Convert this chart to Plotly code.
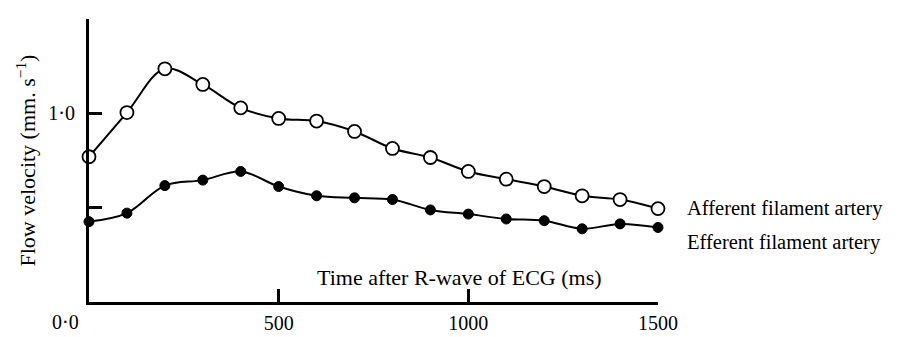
import plotly.graph_objects as go

# Data
time_ms = [0, 100, 200, 300, 400, 500, 600, 700, 800, 900, 1000, 1100, 1200, 1300, 1400, 1500]
afferent = [0.770, 1.004, 1.236, 1.153, 1.029, 0.973, 0.959, 0.904, 0.814, 0.766,
            0.692, 0.651, 0.612, 0.563, 0.543, 0.495]
efferent = [0.426, 0.471, 0.617, 0.646, 0.692, 0.612, 0.563, 0.552, 0.543, 0.488,
            0.466, 0.440, 0.431, 0.388, 0.414, 0.395]

x_tickvals = [500, 1000, 1500]
x_ticktext = ["500", "1000", "1500"]
y_tickvals = [1.0]
y_ticktext = ["1·0"]
y_minor_ticks = [0.5, 1.5]

series_names = ["Afferent filament artery", "Efferent filament artery"]

FONT = "Liberation Serif, Times New Roman, serif"

fig = go.Figure()
fig.add_trace(go.Scatter(
    x=time_ms, y=afferent, mode="lines+markers", name=series_names[0],
    line=dict(color="black", width=2, shape="spline", smoothing=1.0),
    marker=dict(symbol="circle", size=13, color="white",
                line=dict(color="black", width=1.8)),
    showlegend=False, cliponaxis=False,
))
fig.add_trace(go.Scatter(
    x=time_ms, y=efferent, mode="lines+markers", name=series_names[1],
    line=dict(color="black", width=2, shape="spline", smoothing=1.0),
    marker=dict(symbol="circle", size=10, color="black",
                line=dict(color="black", width=1)),
    showlegend=False, cliponaxis=False,
))

annotations = [
    dict(x=1500, y=afferent[-1], xref="x", yref="y", text=series_names[0],
         showarrow=False, xanchor="left", yanchor="middle", xshift=27, yshift=0,
         font=dict(family=FONT, size=20.5, color="black")),
    dict(x=1500, y=efferent[-1], xref="x", yref="y", text=series_names[1],
         showarrow=False, xanchor="left", yanchor="middle", xshift=27, yshift=-15,
         font=dict(family=FONT, size=20.5, color="black")),
    dict(x=978, y=0.129, xref="x", yref="y", text="Time after R-wave of ECG (ms)",
         showarrow=False, xanchor="center", yanchor="middle",
         font=dict(family=FONT, size=22, color="black")),
    dict(x=0, y=0, xref="x", yref="paper", text="0·0",
         showarrow=False, xanchor="center", yanchor="middle", xshift=-24, yshift=-20,
         font=dict(family=FONT, size=20, color="black")),
    dict(x=-64 / 569, y=0.5, xref="paper", yref="paper",
         text="Flow velocity (mm. s<sup>−1</sup>)", textangle=-90,
         showarrow=False, xanchor="center", yanchor="middle",
         font=dict(family=FONT, size=22, color="black")),
]

fig.update_layout(
    width=899, height=337,
    margin=dict(l=81, r=249, t=11, b=35),
    paper_bgcolor="white", plot_bgcolor="white",
    font=dict(family=FONT, size=20, color="black"),
    annotations=annotations,
    showlegend=False,
)
fig.update_xaxes(
    range=[0, 1500], showgrid=False, zeroline=False,
    showline=True, linecolor="black", linewidth=3,
    tickmode="array", tickvals=x_tickvals, ticktext=x_ticktext,
    ticks="inside", ticklen=13, tickwidth=2.5, tickcolor="black",
    ticklabelstandoff=1,
    tickfont=dict(family=FONT, size=20, color="black"),
)
fig.update_yaxes(
    range=[0, 1.5], showgrid=False, zeroline=False,
    showline=True, linecolor="black", linewidth=3,
    tickmode="array", tickvals=y_tickvals, ticktext=y_ticktext,
    ticks="inside", ticklen=13, tickwidth=2.5, tickcolor="black",
    ticklabelstandoff=7,
    tickfont=dict(family=FONT, size=20, color="black"),
    minor=dict(tickmode="array", tickvals=y_minor_ticks, ticks="inside",
               ticklen=13, tickwidth=2.5, tickcolor="black", showgrid=False),
)

fig.write_html("out.html")
